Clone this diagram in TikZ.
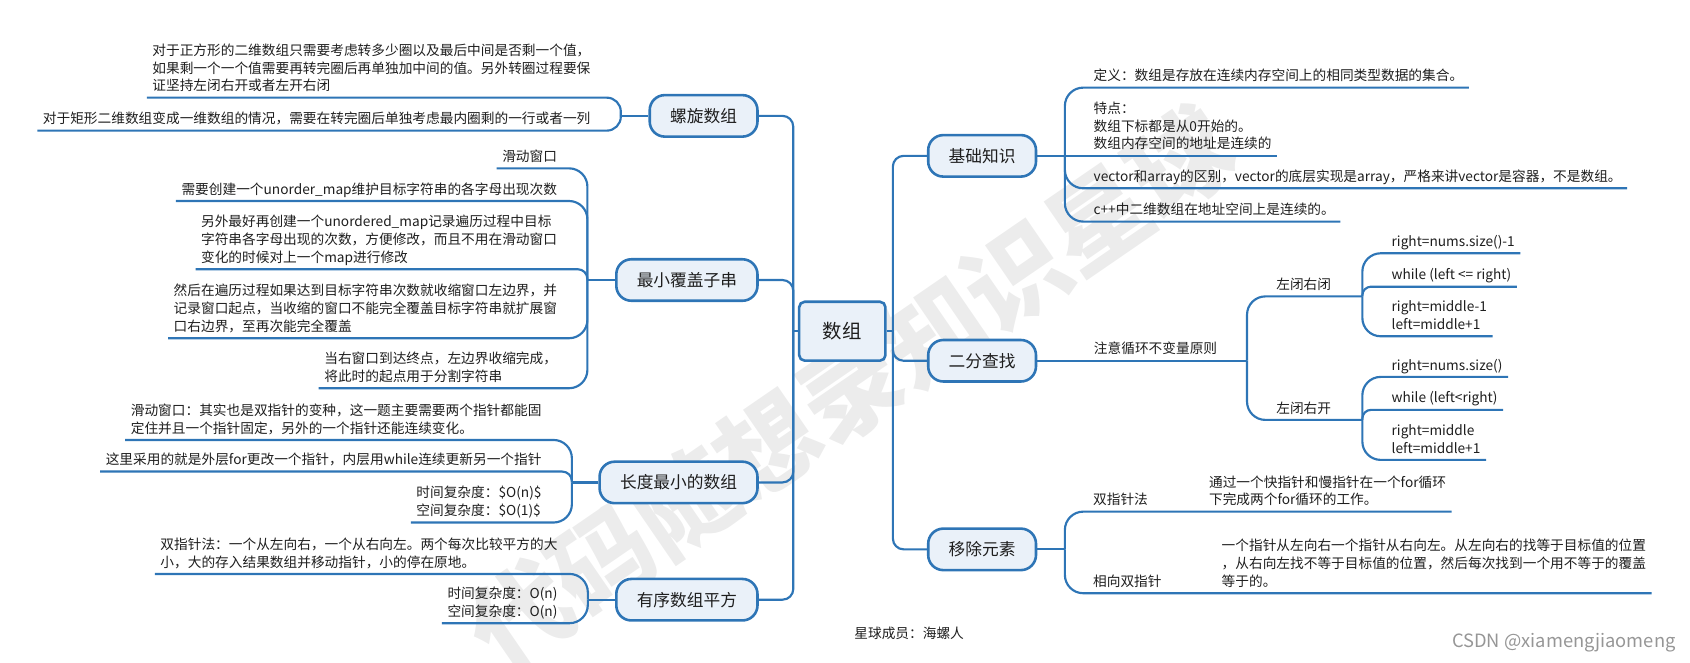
\documentclass[tikz,border=0pt]{standalone}
\usepackage{fontspec}
\setmainfont{Noto Sans CJK SC}
\definecolor{lineblue}{RGB}{46,117,182}
\definecolor{boxblue}{RGB}{234,241,249}
\definecolor{wmgray}{RGB}{236,236,236}
\definecolor{inkgray}{RGB}{30,30,30}
\definecolor{csdngray}{RGB}{150,150,150}
\begin{document}
\begin{tikzpicture}[x=1pt,y=-1pt,
  link/.style={draw=lineblue, line width=2pt, rounded corners=17pt},
  topic/.style={draw=lineblue, fill=boxblue, line width=2.4pt, rounded corners=14pt,
    minimum height=38.5pt, inner xsep=19pt, text=inkgray, font=\fontsize{15.5}{18}\selectfont},
  leaf/.style={inner xsep=5pt, inner ysep=2pt, text depth=4.2pt, align=left, text=inkgray,
    font=\fontsize{12.7}{16.4}\selectfont}]
\useasboundingbox (0,0) rectangle (1568,615);

% Watermark
\node[rotate=34.5, text=wmgray, font=\fontsize{93}{93}\selectfont\bfseries] (wm) at (789,361) {代码随想录知识星球};

% Root
\node[draw=lineblue, fill=boxblue, line width=2.4pt, rounded corners=5pt, minimum width=80pt,
  minimum height=54.6pt, text=inkgray, font=\fontsize{18}{20}\selectfont] (root) at (781.5,307.3) {数组};

% Branches
\node[topic, anchor=east] (lx) at (704,107.5) {螺旋数组};
\node[topic, anchor=east] (zx) at (704,259.8) {最小覆盖子串};
\node[topic, anchor=east] (cd) at (704,447.6) {长度最小的数组};
\node[topic, anchor=east] (yx) at (704,556.4) {有序数组平方};
\node[topic, anchor=west] (jc) at (860,144.6) {基础知识};
\node[topic, anchor=west] (ef) at (860,334.7) {二分查找};
\node[topic, anchor=west] (yc) at (860,509.7) {移除元素};

% Spines
\coordinate (tl) at (736,0);
\coordinate (tr) at (828.4,0);
\coordinate (slx) at (576,0);
\coordinate (szx) at (545,0);
\coordinate (scd) at (530.6,0);
\coordinate (syx) at (545.4,0);
\coordinate (sjc) at (988,0);
\coordinate (sef) at (1157,0);
\coordinate (sbb) at (1264,0);
\coordinate (syc) at (988,0);

% Leaves of 螺旋数组
\node[leaf, anchor=south east] (lx1) at (553,90.6) {对于正方形的二维数组只需要考虑转多少圈以及最后中间是否剩一个值，\\如果剩一个一个值需要再转完圈后再单独加中间的值。另外转圈过程要保\\证坚持左闭右开或者左开右闭};
\node[leaf, anchor=south east] (lx2) at (553,121.2) {对于矩形二维数组变成一维数组的情况，需要在转完圈后单独考虑最内圈剩的一行或者一列};

% Leaves of 最小覆盖子串
\node[leaf, anchor=south east] (zx1) at (522,156.2) {滑动窗口};
\node[leaf, anchor=south east] (zx2) at (522,186.5) {需要创建一个unorder\_map维护目标字符串的各字母出现次数};
\node[leaf, anchor=south east] (zx3) at (522,249.8) {另外最好再创建一个unordered\_map记录遍历过程中目标\\字符串各字母出现的次数，方便修改，而且不用在滑动窗口\\变化的时候对上一个map进行修改};
\node[leaf, anchor=south east] (zx4) at (522,313.8) {然后在遍历过程如果达到目标字符串次数就收缩窗口左边界，并\\记录窗口起点，当收缩的窗口不能完全覆盖目标字符串就扩展窗\\口右边界，至再次能完全覆盖};
\node[leaf, anchor=south east] (zx5) at (522,360.2) {当右窗口到达终点，左边界收缩完成，\\将此时的起点用于分割字符串};

% Leaves of 长度最小的数组
\node[leaf, anchor=south east] (cd1) at (507.6,408.2) {滑动窗口：其实也是双指针的变种，这一题主要需要两个指针都能固\\定住并且一个指针固定，另外的一个指针还能连续变化。};
\node[leaf, anchor=south east] (cd2) at (507.6,437.5) {这里采用的就是外层for更改一个指针，内层用while连续更新另一个指针};
\node[leaf, anchor=south east] (cd3) at (507.6,484.8) {时间复杂度：\$O(n)\$\\空间复杂度：\$O(1)\$};

% Leaves of 有序数组平方
\node[leaf, anchor=south east] (yx1) at (522.4,532.5) {双指针法：一个从左向右，一个从右向左。两个每次比较平方的大\\小，大的存入结果数组并移动指针，小的停在原地。};
\node[leaf, anchor=south east] (yx2) at (522.4,578.2) {时间复杂度：O(n)\\空间复杂度：O(n)};

% Leaves of 基础知识
\node[leaf, anchor=south west] (jc1) at (1009.5,81.3) {定义：数组是存放在连续内存空间上的相同类型数据的集合。};
\node[leaf, anchor=south west] (jc2) at (1009.5,144.6) {特点：\\数组下标都是从0开始的。\\数组内存空间的地址是连续的};
\node[leaf, anchor=south west] (jc3) at (1009.5,174.7) {vector和array的区别，vector的底层实现是array，严格来讲vector是容器，不是数组。};
\node[leaf, anchor=south west] (jc4) at (1009.5,205.6) {c++中二维数组在地址空间上是连续的。};

% Leaves of 二分查找
\node[leaf, anchor=south west] (ef1) at (1009.8,334.7) {注意循环不变量原则};
\node[leaf, anchor=south west] (ef2) at (1179,275) {左闭右闭};
\node[leaf, anchor=south west] (ef3) at (1179,389.6) {左闭右开};
\node[leaf, anchor=south west] (ef21) at (1286,235) {right=nums.size()-1};
\node[leaf, anchor=south west] (ef22) at (1286,266) {while (left <= right)};
\node[leaf, anchor=south west] (ef23) at (1286,312) {right=middle-1\\left=middle+1};
\node[leaf, anchor=south west] (ef31) at (1286,349.7) {right=nums.size()};
\node[leaf, anchor=south west] (ef32) at (1286,380.3) {while (left<right)};
\node[leaf, anchor=south west] (ef33) at (1286,426.7) {right=middle\\left=middle+1};

% Leaves of 移除元素
\node[leaf, anchor=south west] (yc1) at (1009,474.7) {双指针法};
\node[leaf, anchor=south west] (yc11) at (1116.6,474.7) {通过一个快指针和慢指针在一个for循环\\下完成两个for循环的工作。};
\node[leaf, anchor=south west] (yc2) at (1009,550.4) {相向双指针};
\node[leaf, anchor=south west] (yc21) at (1128.3,550.4) {一个指针从左向右一个指针从右向左。从左向右的找等于目标值的位置\\，从右向左找不等于目标值的位置，然后每次找到一个用不等于的覆盖\\等于的。};

% Links from the root
\draw[link] (root.west) -- (root.west -| tl);
\draw[link] (root.east) -- (root.east -| tr);
\foreach \b in {lx,zx,cd,yx} \draw[link, rounded corners=10pt] (root.west -| tl) |- (\b.east);
\foreach \b in {jc,ef,yc} \draw[link, rounded corners=10pt] (root.east -| tr) |- (\b.west);

% Links on the left
\draw[link] (lx.west) -- (lx.west -| slx);
\foreach \l in {lx1,lx2} \draw[link, rounded corners=13pt] (lx.west -| slx) |- (\l.south west);
\draw[link] (zx.west) -- (zx.west -| szx);
\foreach \l/\r in {zx1/17,zx2/17,zx3/9,zx4/17,zx5/17} \draw[link, rounded corners=\r pt] (zx.west -| szx) |- (\l.south west);
\draw[link] (cd.west) -- (cd.west -| scd);
\foreach \l/\r in {cd1/17,cd2/9,cd3/17} \draw[link, rounded corners=\r pt] (cd.west -| scd) |- (\l.south west);
\draw[link] (yx.west) -- (yx.west -| syx);
\foreach \l in {yx1,yx2} \draw[link] (yx.west -| syx) |- (\l.south west);

% Links on the right
\draw[link] (jc.east) -- (jc2.south east);
\foreach \l in {jc1,jc3,jc4} \draw[link] (jc.east -| sjc) |- (\l.south east);
\draw[link] (ef.east) -- (ef1.south -| sef);
\foreach \l in {ef2,ef3} \draw[link] (ef1.south -| sef) |- (\l.south -| sbb);
\foreach \l/\r in {ef21/17,ef22/8,ef23/17} \draw[link, rounded corners=\r pt] (ef2.south -| sbb) |- (\l.south east);
\foreach \l/\r in {ef31/17,ef32/8,ef33/17} \draw[link, rounded corners=\r pt] (ef3.south -| sbb) |- (\l.south east);
\draw[link] (yc.east) -- (yc.east -| syc);
\foreach \l in {yc11,yc21} \draw[link] (yc.east -| syc) |- (\l.south east);

% Footer
\node[text=inkgray, font=\fontsize{12.7}{15}\selectfont] (member) at (843.5,587.5) {星球成员：海螺人};
\node[text=csdngray, font=\fontsize{17}{17}\selectfont] (csdn) at (1451,596) {CSDN @xiamengjiaomeng};
\end{tikzpicture}
\end{document}
